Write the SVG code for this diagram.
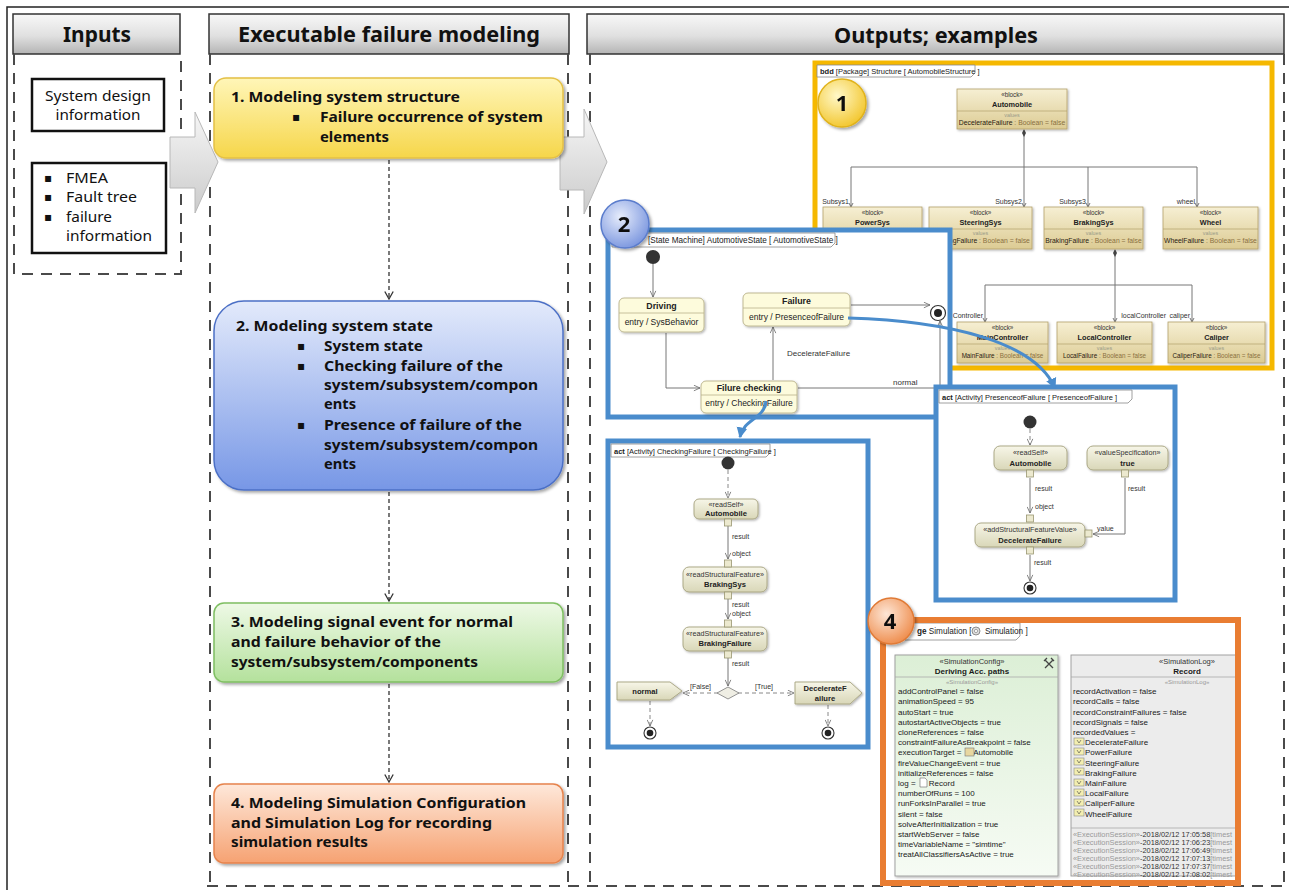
<svg xmlns="http://www.w3.org/2000/svg" width="1289" height="890" viewBox="0 0 1289 890">
<defs>
<style>
.h{font:bold 21px "Noto Sans","Open Sans",sans-serif;fill:#111;text-anchor:middle}
.bx{font:bold 15px "Noto Sans","Open Sans",sans-serif;fill:#111}
.in{font:14px "Noto Sans","Open Sans",sans-serif;fill:#111}
.bul{font:12px "DejaVu Sans",sans-serif;fill:#111}
.col{fill:none;stroke:#4a4a4a;stroke-width:2;stroke-dasharray:11 8}
.flow{fill:none;stroke:#333;stroke-width:1.3;stroke-dasharray:4 3}
.tab{fill:#fff;stroke:#888;stroke-width:0.8}
.tabt{font:7.5px "Liberation Sans",Arial,sans-serif;fill:#222}
.tabt8{font:8.2px "Liberation Sans",Arial,sans-serif;fill:#222}
.bk{fill:url(#gTan);stroke:#b3a06a;stroke-width:0.8;filter:url(#sh)}
.st{font:6.3px "Liberation Sans",Arial,sans-serif;fill:#333;text-anchor:middle}
.bn{font:bold 7.3px "Liberation Sans",Arial,sans-serif;fill:#222;text-anchor:middle}
.vl{font:5.3px "Liberation Sans",Arial,sans-serif;fill:#998;text-anchor:middle}
.bv{font:6.8px "Liberation Sans",Arial,sans-serif;fill:#2a2010;text-anchor:middle}
.bv2{font:6.3px "Liberation Sans",Arial,sans-serif;fill:#2a2010;text-anchor:middle}
.bt{fill:#8a7040}
.sep{stroke:#b3a06a;stroke-width:0.7}
.ln{fill:none;stroke:#777;stroke-width:1}
.lbl{font:7px "Liberation Sans",Arial,sans-serif;fill:#333}
.lbl8{font:8px "Liberation Sans",Arial,sans-serif;fill:#333}
.state{fill:#fdfbdc;stroke:#b9b28a;stroke-width:0.9;filter:url(#sh)}
.sn{font:bold 8.8px "Liberation Sans",Arial,sans-serif;fill:#222;text-anchor:middle}
.se{font:8.5px "Liberation Sans",Arial,sans-serif;fill:#222;text-anchor:middle}
.tr{fill:none;stroke:#777;stroke-width:1;marker-end:url(#oa)}
.act{fill:url(#gAct);stroke:#a5a27e;stroke-width:0.9;filter:url(#sh)}
.as{font:7.2px "Liberation Sans",Arial,sans-serif;fill:#333;text-anchor:middle}
.an{font:bold 7.6px "Liberation Sans",Arial,sans-serif;fill:#222;text-anchor:middle}
.pin{fill:#ece9cf;stroke:#9a9670;stroke-width:0.8}
.cf{fill:none;stroke:#888;stroke-width:1;stroke-dasharray:4 3;marker-end:url(#oa)}
.of{fill:none;stroke:#777;stroke-width:1;marker-end:url(#oa)}
.fr{fill:#fff;stroke:#4a8ccc;stroke-width:5}
.sim{font:8px "Liberation Sans",Arial,sans-serif;fill:#1a1a1a}
.simb{font:bold 8px "Liberation Sans",Arial,sans-serif;fill:#1a1a1a;text-anchor:middle}
.simh{font:7.5px "Liberation Sans",Arial,sans-serif;fill:#333;text-anchor:middle}
.simg{font:6px "Liberation Sans",Arial,sans-serif;fill:#999;text-anchor:middle}
.ses{font:7.4px "Liberation Sans",Arial,sans-serif;fill:#333}
.badge{font:bold 22px "Noto Sans","Open Sans",sans-serif;fill:#111;text-anchor:middle}
.blue{fill:none;stroke:#4a8ccc;stroke-width:3;marker-end:url(#ba)}
</style>
<linearGradient id="gHead" x1="0" y1="0" x2="0" y2="1"><stop offset="0" stop-color="#f8f8f8"/><stop offset="0.55" stop-color="#e0e0e0"/><stop offset="1" stop-color="#b4b4b4"/></linearGradient>
<linearGradient id="gArrow" x1="0" y1="0" x2="0" y2="1"><stop offset="0" stop-color="#f6f6f6"/><stop offset="1" stop-color="#cbcbcb"/></linearGradient>
<linearGradient id="gY" x1="0" y1="0" x2="0" y2="1"><stop offset="0" stop-color="#fff6b8"/><stop offset="1" stop-color="#f6d64a"/></linearGradient>
<linearGradient id="gB" x1="0" y1="0" x2="0" y2="1"><stop offset="0" stop-color="#e3eafb"/><stop offset="1" stop-color="#7797e6"/></linearGradient>
<linearGradient id="gG" x1="0" y1="0" x2="0" y2="1"><stop offset="0" stop-color="#eef9e6"/><stop offset="1" stop-color="#b4e19c"/></linearGradient>
<linearGradient id="gO" x1="0" y1="0" x2="0" y2="1"><stop offset="0" stop-color="#fee8da"/><stop offset="1" stop-color="#f6a272"/></linearGradient>
<linearGradient id="gTan" x1="0" y1="0" x2="0" y2="1"><stop offset="0" stop-color="#f6efd3"/><stop offset="1" stop-color="#dccb93"/></linearGradient>
<linearGradient id="gAct" x1="0" y1="0" x2="0" y2="1"><stop offset="0" stop-color="#f7f6e8"/><stop offset="1" stop-color="#d9d7b8"/></linearGradient>
<linearGradient id="gCfg" x1="0" y1="0" x2="0" y2="1"><stop offset="0" stop-color="#dcefd6"/><stop offset="1" stop-color="#f6fbf4"/></linearGradient>
<radialGradient id="b1" cx="0.4" cy="0.35" r="0.7"><stop offset="0" stop-color="#fff8c8"/><stop offset="1" stop-color="#f2c52a"/></radialGradient>
<radialGradient id="b2" cx="0.4" cy="0.35" r="0.7"><stop offset="0" stop-color="#e6ecfb"/><stop offset="1" stop-color="#7894de"/></radialGradient>
<radialGradient id="b4" cx="0.4" cy="0.35" r="0.7"><stop offset="0" stop-color="#fde6d6"/><stop offset="1" stop-color="#ee8a48"/></radialGradient>
<filter id="sh" x="-10%" y="-10%" width="130%" height="140%"><feDropShadow dx="1.2" dy="1.2" stdDeviation="0.8" flood-opacity="0.3"/></filter>
<filter id="sh2" x="-20%" y="-20%" width="150%" height="150%"><feDropShadow dx="2" dy="2" stdDeviation="1.6" flood-opacity="0.35"/></filter>
<marker id="va" viewBox="0 0 10 10" refX="9" refY="5" markerUnits="userSpaceOnUse" markerWidth="10" markerHeight="10" orient="auto"><path d="M1.5,0.8 L9,5 L1.5,9.2" fill="none" stroke="#333" stroke-width="1.3"/></marker>
<marker id="oa" viewBox="0 0 8 8" refX="7.5" refY="4" markerUnits="userSpaceOnUse" markerWidth="7" markerHeight="7" orient="auto"><path d="M0.5,0.8 L7.5,4 L0.5,7.2" fill="none" stroke="#666" stroke-width="0.9"/></marker>
<marker id="ba" viewBox="0 0 10 10" refX="8" refY="5" markerUnits="userSpaceOnUse" markerWidth="12" markerHeight="12" orient="auto"><path d="M0,0.5 L9,5 L0,9.5 Z" fill="#4a8ccc"/></marker>
<clipPath id="simclip"><rect x="886" y="623" width="349" height="257"/></clipPath>
</defs>
<rect width="1289" height="890" fill="#fff"/>
<path d="M7 890 V7 H1289" fill="none" stroke="#222" stroke-width="1.5"/>

<!-- headers -->
<g id="hdr-inputs"><rect x="13" y="14" width="167" height="40" fill="url(#gHead)" stroke="#333" stroke-width="1.5"/><text x="97" y="42" class="h" textLength="68" lengthAdjust="spacingAndGlyphs">Inputs</text></g>
<g id="hdr-exec"><rect x="209" y="14" width="360" height="40" fill="url(#gHead)" stroke="#333" stroke-width="1.5"/><text x="389" y="42" class="h" textLength="302" lengthAdjust="spacingAndGlyphs">Executable failure modeling</text></g>
<g id="hdr-out"><rect x="587" y="14" width="697" height="40" fill="url(#gHead)" stroke="#333" stroke-width="1.5"/><text x="936" y="43" class="h" textLength="204" lengthAdjust="spacingAndGlyphs">Outputs; examples</text></g>

<!-- column dashed borders -->
<g id="columns">
<path class="col" d="M14 54 V274 H181 V54"/>
<path class="col" d="M210 54 V886"/>
<path class="col" d="M568 54 V886"/>
<path class="col" d="M207 886 H1285"/>
<path class="col" d="M590 54 V886"/>
<path class="col" d="M1284 54 V886"/>
</g>

<!-- inputs -->
<g id="in-design"><rect x="32" y="79" width="132" height="52" fill="#fff" stroke="#111" stroke-width="2.5"/>
<text x="98" y="101" class="in" text-anchor="middle" textLength="106" lengthAdjust="spacingAndGlyphs">System design</text>
<text x="98" y="120" class="in" text-anchor="middle" textLength="85" lengthAdjust="spacingAndGlyphs">information</text></g>
<g id="in-fmea"><rect x="32" y="163" width="134" height="90" fill="#fff" stroke="#111" stroke-width="2.5"/>
<text x="44" y="182" class="bul">▪</text><text x="66" y="183" class="in" textLength="42" lengthAdjust="spacingAndGlyphs">FMEA</text>
<text x="44" y="201" class="bul">▪</text><text x="66" y="202" class="in" textLength="71" lengthAdjust="spacingAndGlyphs">Fault tree</text>
<text x="44" y="221" class="bul">▪</text><text x="66" y="222" class="in" textLength="46" lengthAdjust="spacingAndGlyphs">failure</text>
<text x="66" y="241" class="in" textLength="86" lengthAdjust="spacingAndGlyphs">information</text></g>

<!-- big arrows -->
<g id="arrow-in"><polygon points="170,137 195,137 195,112 218,162 195,213 195,188 170,188" fill="url(#gArrow)" stroke="#b8b8b8" stroke-width="1"/></g>
<g id="arrow-out"><polygon points="560,137 584,137 584,109 607,162 584,214 584,190 560,190" fill="url(#gArrow)" stroke="#b8b8b8" stroke-width="1"/></g>

<!-- middle column connectors -->
<g id="flow-connectors">
<path class="flow" d="M389 160 V299" marker-end="url(#va)"/>
<path class="flow" d="M389 492 V601" marker-end="url(#va)"/>
<path class="flow" d="M389 684 V782" marker-end="url(#va)"/>
</g>

<!-- middle column boxes -->
<g id="step1"><rect x="214" y="78" width="349" height="80" rx="12" fill="url(#gY)" stroke="#e4c046" stroke-width="1.5" filter="url(#sh2)"/>
<text x="231" y="102" class="bx" textLength="229" lengthAdjust="spacingAndGlyphs">1. Modeling system structure</text>
<text x="292" y="121" class="bul">▪</text>
<text x="320" y="122" class="bx" textLength="223" lengthAdjust="spacingAndGlyphs">Failure occurrence of system</text>
<text x="320" y="142" class="bx" textLength="69" lengthAdjust="spacingAndGlyphs">elements</text></g>

<g id="step2"><rect x="214" y="301" width="349" height="189" rx="30" fill="url(#gB)" stroke="#4c70c6" stroke-width="1.5" filter="url(#sh2)"/>
<text x="236" y="331" class="bx" textLength="197" lengthAdjust="spacingAndGlyphs">2. Modeling system state</text>
<text x="297" y="350" class="bul">▪</text><text x="324" y="351" class="bx" textLength="99" lengthAdjust="spacingAndGlyphs">System state</text>
<text x="297" y="370" class="bul">▪</text><text x="324" y="371" class="bx" textLength="179" lengthAdjust="spacingAndGlyphs">Checking failure of the</text>
<text x="324" y="390" class="bx" textLength="214" lengthAdjust="spacingAndGlyphs">system/subsystem/compon</text>
<text x="324" y="409" class="bx" textLength="32" lengthAdjust="spacingAndGlyphs">ents</text>
<text x="297" y="429" class="bul">▪</text><text x="324" y="430" class="bx" textLength="198" lengthAdjust="spacingAndGlyphs">Presence of failure of the</text>
<text x="324" y="450" class="bx" textLength="214" lengthAdjust="spacingAndGlyphs">system/subsystem/compon</text>
<text x="324" y="469" class="bx" textLength="32" lengthAdjust="spacingAndGlyphs">ents</text></g>

<g id="step3"><rect x="214" y="603" width="349" height="79" rx="10" fill="url(#gG)" stroke="#7fbf62" stroke-width="1.5" filter="url(#sh2)"/>
<text x="231" y="627" class="bx" textLength="282" lengthAdjust="spacingAndGlyphs">3. Modeling signal event for normal</text>
<text x="231" y="647" class="bx" textLength="210" lengthAdjust="spacingAndGlyphs">and failure behavior of the</text>
<text x="231" y="667" class="bx" textLength="247" lengthAdjust="spacingAndGlyphs">system/subsystem/components</text></g>

<g id="step4"><rect x="214" y="784" width="349" height="79" rx="10" fill="url(#gO)" stroke="#e6834c" stroke-width="1.5" filter="url(#sh2)"/>
<text x="231" y="808" class="bx" textLength="295" lengthAdjust="spacingAndGlyphs">4. Modeling Simulation Configuration</text>
<text x="231" y="828" class="bx" textLength="261" lengthAdjust="spacingAndGlyphs">and Simulation Log for recording</text>
<text x="231" y="847" class="bx" textLength="137" lengthAdjust="spacingAndGlyphs">simulation results</text></g>

<!-- ===== bdd ===== -->
<g id="bdd">
<rect x="815" y="63" width="457" height="305" fill="#fff" stroke="#f5b800" stroke-width="5"/>
<path class="tab" d="M817 65 H975 V73 L971 77 H817 Z"/>
<text x="820" y="74" class="tabt"><tspan font-weight="bold">bdd</tspan> [Package] Structure [ AutomobileStructure ]</text>
<g id="bdd-lines">
<path class="ln" d="M1024 131 V167 M851 167 H1197 M851 167 V206 M1024 167 V206 M1088 167 V206 M1197 167 V206"/>
<path d="M1024 129 L1026 133 L1024 137 L1022 133 Z" fill="#444"/>
<path class="ln" d="M1115 251 V321 M985 285 H1192 M985 285 V321 M1192 285 V321"/>
<path d="M1115 249 L1117 253 L1115 257 L1113 253 Z" fill="#444"/>
<path d="M849 203 L851 207 L853 203 M1022 203 L1024 207 L1026 203 M1086 203 L1088 207 L1090 203 M1195 203 L1197 207 L1199 203 M983 318 L985 322 L987 318 M1113 318 L1115 322 L1117 318 M1190 318 L1192 322 L1194 318" fill="none" stroke="#555" stroke-width="0.8"/>
<text x="849" y="204" class="lbl" text-anchor="end">Subsys1</text>
<text x="1022" y="204" class="lbl" text-anchor="end">Subsys2</text>
<text x="1086" y="204" class="lbl" text-anchor="end">Subsys3</text>
<text x="1195" y="204" class="lbl" text-anchor="end">wheel</text>
<text x="983" y="318" class="lbl" text-anchor="end">Controller</text>
<text x="1166" y="318" class="lbl" text-anchor="end">localController</text>
<text x="1190" y="318" class="lbl" text-anchor="end">caliper</text>
</g>
<g id="blk-automobile"><rect x="957" y="89" width="110" height="40" class="bk"/>
<text x="1012" y="97" class="st">«block»</text><text x="1012" y="107" class="bn">Automobile</text>
<line x1="957" y1="111" x2="1067" y2="111" class="sep"/>
<text x="1012" y="117" class="vl">values</text>
<text x="1012" y="124.5" class="bv">DecelerateFailure<tspan class="bt"> : Boolean = false</tspan></text></g>
<g id="blk-powersys"><rect x="823" y="207" width="99" height="42" class="bk"/>
<text x="872.5" y="215" class="st">«block»</text><text x="872.5" y="225" class="bn">PowerSys</text></g>
<g id="blk-steeringsys"><rect x="929" y="207" width="103" height="42" class="bk"/>
<text x="980.5" y="215" class="st">«block»</text><text x="980.5" y="225" class="bn">SteeringSys</text>
<line x1="929" y1="229" x2="1032" y2="229" class="sep"/>
<text x="980.5" y="235" class="vl">values</text>
<text x="980.5" y="243" class="bv">SteeringFailure<tspan class="bt"> : Boolean = false</tspan></text></g>
<g id="blk-brakingsys"><rect x="1044" y="207" width="99" height="42" class="bk"/>
<text x="1093.5" y="215" class="st">«block»</text><text x="1093.5" y="225" class="bn">BrakingSys</text>
<line x1="1044" y1="229" x2="1143" y2="229" class="sep"/>
<text x="1093.5" y="235" class="vl">values</text>
<text x="1093.5" y="243" class="bv">BrakingFailure<tspan class="bt"> : Boolean = false</tspan></text></g>
<g id="blk-wheel"><rect x="1163" y="207" width="95" height="42" class="bk"/>
<text x="1210.5" y="215" class="st">«block»</text><text x="1210.5" y="225" class="bn">Wheel</text>
<line x1="1163" y1="229" x2="1258" y2="229" class="sep"/>
<text x="1210.5" y="235" class="vl">values</text>
<text x="1210.5" y="243" class="bv">WheelFailure<tspan class="bt"> : Boolean = false</tspan></text></g>
<g id="blk-maincontroller"><rect x="957" y="322" width="91" height="41" class="bk"/>
<text x="1002.5" y="330" class="st">«block»</text><text x="1002.5" y="340" class="bn">MainController</text>
<line x1="957" y1="344" x2="1048" y2="344" class="sep"/>
<text x="1002.5" y="350" class="vl">values</text>
<text x="1002.5" y="358" class="bv2">MainFailure<tspan class="bt"> : Boolean = false</tspan></text></g>
<g id="blk-localcontroller"><rect x="1057" y="322" width="95" height="41" class="bk"/>
<text x="1104.5" y="330" class="st">«block»</text><text x="1104.5" y="340" class="bn">LocalController</text>
<line x1="1057" y1="344" x2="1152" y2="344" class="sep"/>
<text x="1104.5" y="350" class="vl">values</text>
<text x="1104.5" y="358" class="bv2">LocalFailure<tspan class="bt"> : Boolean = false</tspan></text></g>
<g id="blk-caliper"><rect x="1168" y="322" width="97" height="41" class="bk"/>
<text x="1216.5" y="330" class="st">«block»</text><text x="1216.5" y="340" class="bn">Caliper</text>
<line x1="1168" y1="344" x2="1265" y2="344" class="sep"/>
<text x="1216.5" y="350" class="vl">values</text>
<text x="1216.5" y="358" class="bv2">CaliperFailure<tspan class="bt"> : Boolean = false</tspan></text></g>
</g>

<!-- ===== state machine ===== -->
<g id="stm">
<rect x="608" y="230" width="342" height="187" class="fr"/>
<path class="tab" d="M612 233 H835 V243 L831 247 H612 Z"/>
<text x="648" y="243" class="tabt8">[State Machine] AutomotiveState [ AutomotiveState ]</text>
<g id="stm-transitions">
<path class="tr" d="M653 264 V297"/>
<path class="tr" d="M666 333 V388 H700"/>
<path class="tr" d="M773 380 V327"/>
<path class="tr" d="M851 305 H930"/>
<path class="tr" d="M798 388 H940 V321"/>
<text x="787" y="356" class="lbl8">DecelerateFailure</text>
<text x="893" y="385" class="lbl8">normal</text>
</g>
<circle id="stm-init" cx="653" cy="257" r="7" fill="#333"/>
<g id="stm-final"><circle cx="938" cy="313" r="7.5" fill="#fff" stroke="#333" stroke-width="1.2"/><circle cx="938" cy="313" r="4" fill="#222"/></g>
<g id="st-driving"><rect x="619" y="298" width="85" height="34" rx="5" class="state"/>
<line x1="619" y1="313" x2="704" y2="313" stroke="#b9b28a" stroke-width="0.8"/>
<text x="661.5" y="309" class="sn">Driving</text><text x="661.5" y="325" class="se">entry / SysBehavior</text></g>
<g id="st-failure"><rect x="743" y="293" width="107" height="33" rx="5" class="state"/>
<line x1="743" y1="308" x2="850" y2="308" stroke="#b9b28a" stroke-width="0.8"/>
<text x="796.5" y="304" class="sn">Failure</text><text x="796.5" y="320" class="se">entry / PresenceofFailure</text></g>
<g id="st-checking"><rect x="701" y="381" width="96" height="32" rx="5" class="state"/>
<line x1="701" y1="395" x2="797" y2="395" stroke="#b9b28a" stroke-width="0.8"/>
<text x="749" y="391" class="sn">Filure checking</text><text x="749" y="406" class="se">entry / CheckingFailure</text></g>
</g>

<!-- ===== activity PresenceofFailure ===== -->
<g id="act-presence">
<rect x="936" y="387" width="239" height="213" class="fr"/>
<path class="tab" d="M939 390 H1132 V399 L1128 403 H939 Z"/>
<text x="942" y="400" class="tabt"><tspan font-weight="bold">act</tspan> [Activity] PresenceofFailure [ PresenceofFailure ]</text>
<g id="pf-edges">
<path class="cf" d="M1030 429 V445"/>
<path class="of" d="M1030 478 V513"/>
<path class="of" d="M1125 478 V534 H1093"/>
<path class="of" d="M1030 555 V581"/>
<text x="1035" y="491" class="lbl">result</text>
<text x="1035" y="509" class="lbl">object</text>
<text x="1128" y="491" class="lbl">result</text>
<text x="1097" y="531" class="lbl">value</text>
<text x="1034" y="565" class="lbl">result</text>
</g>
<circle cx="1030" cy="422" r="6.5" fill="#333"/>
<g id="pf-readself"><rect x="994" y="446" width="73" height="24" rx="6" class="act"/>
<text x="1030.5" y="455" class="as">«readSelf»</text><text x="1030.5" y="466" class="an">Automobile</text></g>
<g id="pf-valuespec"><rect x="1087" y="446" width="81" height="24" rx="6" class="act"/>
<text x="1127.5" y="455" class="as">«valueSpecification»</text><text x="1127.5" y="466" class="an">true</text></g>
<g id="pf-addsfv"><rect x="975" y="523" width="110" height="24" rx="6" class="act"/>
<text x="1030" y="532" class="as">«addStructuralFeatureValue»</text><text x="1030" y="543" class="an">DecelerateFailure</text></g>
<rect x="1026.5" y="470" width="7" height="7" class="pin"/>
<rect x="1121.5" y="470" width="7" height="7" class="pin"/>
<rect x="1026.5" y="515" width="7" height="7" class="pin"/>
<rect x="1085" y="530" width="7" height="7" class="pin"/>
<rect x="1026.5" y="547" width="7" height="7" class="pin"/>
<circle cx="1030" cy="588" r="6" fill="#fff" stroke="#333" stroke-width="1.1"/><circle cx="1030" cy="588" r="3.3" fill="#222"/>
</g>

<!-- ===== activity CheckingFailure ===== -->
<g id="act-checking">
<rect x="608" y="441" width="260" height="306" class="fr"/>
<path class="tab" d="M611 444 H770 V453 L766 457 H611 Z"/>
<text x="614" y="454" class="tabt"><tspan font-weight="bold">act</tspan> [Activity] CheckingFailure [ CheckingFailure ]</text>
<g id="cf-edges">
<path class="cf" d="M728 470 V498"/>
<path class="of" d="M728 526 V559"/>
<path class="of" d="M728 596 V619"/>
<path class="of" d="M728 654 V686"/>
<path class="cf" d="M718 693 H683"/>
<path class="cf" d="M738 693 H794"/>
<path class="cf" d="M650 701 V726"/>
<path class="cf" d="M828 705 V726"/>
<text x="732" y="539" class="lbl">result</text>
<text x="732" y="556" class="lbl">object</text>
<text x="732" y="607" class="lbl">result</text>
<text x="732" y="616" class="lbl">object</text>
<text x="732" y="666" class="lbl">result</text>
<text x="690" y="689" class="lbl">[False]</text>
<text x="755" y="689" class="lbl">[True]</text>
</g>
<circle cx="728" cy="463" r="6.5" fill="#333"/>
<g id="cf-readself"><rect x="694" y="499" width="64" height="20" rx="5" class="act"/>
<text x="726" y="507" class="as">«readSelf»</text><text x="726" y="516" class="an">Automobile</text></g>
<g id="cf-brakingsys"><rect x="683" y="567" width="84" height="25" rx="6" class="act"/>
<text x="725" y="577" class="as">«readStructuralFeature»</text><text x="725" y="587" class="an">BrakingSys</text></g>
<g id="cf-brakingfailure"><rect x="683" y="627" width="84" height="24" rx="6" class="act"/>
<text x="725" y="636" class="as">«readStructuralFeature»</text><text x="725" y="646" class="an">BrakingFailure</text></g>
<rect x="724.5" y="519" width="7" height="7" class="pin"/>
<rect x="724.5" y="560" width="7" height="7" class="pin"/>
<rect x="724.5" y="592" width="7" height="7" class="pin"/>
<rect x="724.5" y="620" width="7" height="7" class="pin"/>
<rect x="724.5" y="651" width="7" height="7" class="pin"/>
<polygon points="728,687 739,693 728,699 717,693" fill="#efeee4" stroke="#888" stroke-width="0.9"/>
<g id="cf-normal"><polygon points="617,682 670,682 682,691 670,700 617,700" class="act"/>
<text x="645" y="694" class="an">normal</text></g>
<g id="cf-decel"><polygon points="795,682 850,682 862,693 850,704 795,704" class="act"/>
<text x="825" y="691" class="an">DecelerateF</text><text x="825" y="701" class="an">ailure</text></g>
<circle cx="650" cy="733" r="6" fill="#fff" stroke="#333" stroke-width="1.1"/><circle cx="650" cy="733" r="3.3" fill="#222"/>
<circle cx="828" cy="733" r="6" fill="#fff" stroke="#333" stroke-width="1.1"/><circle cx="828" cy="733" r="3.3" fill="#222"/>
</g>

<!-- ===== Simulation ===== -->
<g id="sim">
<rect x="883" y="620" width="355" height="263" fill="#fff" stroke="#e97d32" stroke-width="6"/>
<g clip-path="url(#simclip)">
<path class="tab" d="M905 623 H1020 V636 L1016 640 H905 Z"/>
<text x="917" y="634" class="tabt8"><tspan font-weight="bold">ge</tspan>  Simulation [ <tspan dx="11">Simulation ]</tspan></text>
<g id="gear-icon"><circle cx="976" cy="631" r="4" fill="#ddd" stroke="#777" stroke-width="0.8"/><circle cx="976" cy="631" r="1.6" fill="#fff" stroke="#777" stroke-width="0.6"/></g>

<g id="sim-config"><rect x="895" y="655" width="163" height="221" fill="url(#gCfg)" stroke="#999" stroke-width="0.9" filter="url(#sh)"/>
<line x1="895" y1="677" x2="1058" y2="677" stroke="#aaa" stroke-width="0.8"/>
<text x="972" y="664" class="simh">«SimulationConfig»</text>
<text x="972" y="674" class="simb">Deriving Acc. paths</text>
<path d="M1045 660 L1053 668 M1053 660 L1045 668 M1044 661 L1047 658 M1054 661 L1051 658" stroke="#444" stroke-width="1.3" fill="none"/>
<text x="972" y="684" class="simg">«SimulationConfig»</text>
<text x="898" y="694" class="sim">addControlPanel = false</text>
<text x="898" y="704" class="sim">animationSpeed = 95</text>
<text x="898" y="714.5" class="sim">autoStart = true</text>
<text x="898" y="724.5" class="sim">autostartActiveObjects = true</text>
<text x="898" y="735" class="sim">cloneReferences = false</text>
<text x="898" y="745" class="sim">constraintFailureAsBreakpoint = false</text>
<text x="898" y="755" class="sim">executionTarget = <tspan dx="10">Automobile</tspan></text>
<rect x="965" y="748" width="9" height="8" fill="#e8d7a0" stroke="#777" stroke-width="0.6"/>
<text x="898" y="765.5" class="sim">fireValueChangeEvent = true</text>
<text x="898" y="775.5" class="sim">initializeReferences = false</text>
<text x="898" y="786" class="sim">log = <tspan dx="11">Record</tspan></text>
<path d="M920 778 H925 L927 780 V787 H920 Z" fill="#fff" stroke="#666" stroke-width="0.6"/>
<text x="898" y="796" class="sim">numberOfRuns = 100</text>
<text x="898" y="806" class="sim">runForksInParallel = true</text>
<text x="898" y="816.5" class="sim">silent = false</text>
<text x="898" y="826.5" class="sim">solveAfterInitialization = true</text>
<text x="898" y="837" class="sim">startWebServer = false</text>
<text x="898" y="847" class="sim">timeVariableName = "simtime"</text>
<text x="898" y="857" class="sim">treatAllClassifiersAsActive = true</text></g>

<g id="sim-log"><rect x="1071" y="655" width="232" height="221" fill="#ececec" stroke="#999" stroke-width="0.9"/>
<line x1="1071" y1="677" x2="1303" y2="677" stroke="#aaa" stroke-width="0.8"/>
<text x="1187" y="664" class="simh">«SimulationLog»</text>
<text x="1187" y="674" class="simb">Record</text>
<text x="1187" y="684" class="simg">«SimulationLog»</text>
<text x="1073" y="694" class="sim">recordActivation = false</text>
<text x="1073" y="704" class="sim">recordCalls = false</text>
<text x="1073" y="714.5" class="sim">recordConstraintFailures = false</text>
<text x="1073" y="724.5" class="sim">recordSignals = false</text>
<text x="1073" y="735" class="sim">recordedValues =</text>
<g id="rv-icons" fill="#f3eeb0" stroke="#888" stroke-width="0.6">
<rect x="1074" y="738" width="10" height="7"/><rect x="1074" y="748" width="10" height="7"/><rect x="1074" y="758" width="10" height="7"/><rect x="1074" y="768" width="10" height="7"/><rect x="1074" y="779" width="10" height="7"/><rect x="1074" y="789" width="10" height="7"/><rect x="1074" y="799" width="10" height="7"/><rect x="1074" y="809" width="10" height="7"/>
</g>
<path d="M1077 740 L1079 743 L1081 740 M1077 750 L1079 753 L1081 750 M1077 760 L1079 763 L1081 760 M1077 770 L1079 773 L1081 770 M1077 781 L1079 784 L1081 781 M1077 791 L1079 794 L1081 791 M1077 801 L1079 804 L1081 801 M1077 811 L1079 814 L1081 811" fill="none" stroke="#444" stroke-width="0.6"/>
<text x="1085" y="745" class="sim">DecelerateFailure</text>
<text x="1085" y="755" class="sim">PowerFailure</text>
<text x="1085" y="765.5" class="sim">SteeringFailure</text>
<text x="1085" y="775.5" class="sim">BrakingFailure</text>
<text x="1085" y="786" class="sim">MainFailure</text>
<text x="1085" y="796" class="sim">LocalFailure</text>
<text x="1085" y="806" class="sim">CaliperFailure</text>
<text x="1085" y="816.5" class="sim">WheelFailure</text>
<line x1="1071" y1="828" x2="1303" y2="828" stroke="#aaa" stroke-width="0.8"/>
<text x="1073" y="837" class="ses"><tspan fill="#999">«ExecutionSession»</tspan>-2018/02/12 17:05:58<tspan fill="#999">[timest</tspan></text>
<text x="1073" y="845" class="ses"><tspan fill="#999">«ExecutionSession»</tspan>-2018/02/12 17:06:23<tspan fill="#999">[timest</tspan></text>
<text x="1073" y="853" class="ses"><tspan fill="#999">«ExecutionSession»</tspan>-2018/02/12 17:06:49<tspan fill="#999">[timest</tspan></text>
<text x="1073" y="861" class="ses"><tspan fill="#999">«ExecutionSession»</tspan>-2018/02/12 17:07:13<tspan fill="#999">[timest</tspan></text>
<text x="1073" y="869" class="ses"><tspan fill="#999">«ExecutionSession»</tspan>-2018/02/12 17:07:37<tspan fill="#999">[timest</tspan></text>
<text x="1073" y="877" class="ses"><tspan fill="#999">«ExecutionSession»</tspan>-2018/02/12 17:08:02<tspan fill="#999">[timest</tspan></text></g>
</g>
</g>

<!-- blue cross-diagram connectors -->
<g id="connectors">
<path class="blue" d="M848 318 C950 321, 1035 342, 1055 388"/>
<path class="blue" d="M766 401 C764 420, 744 418, 740 437"/>
</g>

<!-- badges -->
<g id="badge1" filter="url(#sh2)"><circle cx="842" cy="103" r="24" fill="url(#b1)" stroke="#e0b21a" stroke-width="1.5"/><text x="842" y="111" class="badge">1</text></g>
<g id="badge2" filter="url(#sh2)"><circle cx="625" cy="224" r="24" fill="url(#b2)" stroke="#5a7ccc" stroke-width="1.5"/><text x="624" y="232" class="badge">2</text></g>
<g id="badge4" filter="url(#sh2)"><circle cx="891" cy="621" r="23" fill="url(#b4)" stroke="#e07a36" stroke-width="1.5"/><text x="890" y="629" class="badge">4</text></g>
</svg>
